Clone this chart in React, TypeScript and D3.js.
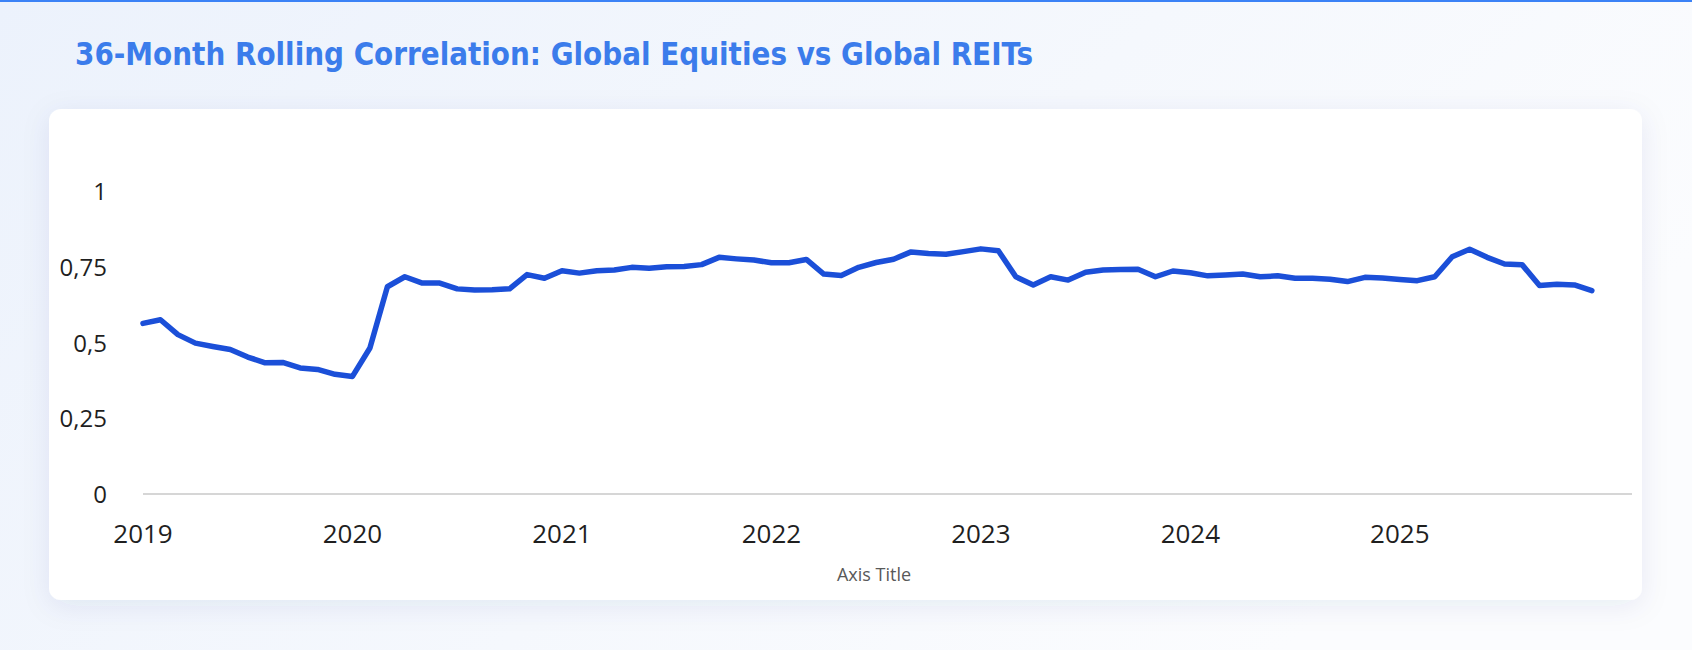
import React from 'react';
import * as d3 from 'd3';

// monthly 36-month rolling correlation, Jan 2019 .. Dec 2025
const corr2019 = [0.563, 0.575, 0.526, 0.498, 0.487, 0.477, 0.452, 0.433, 0.434, 0.416, 0.411, 0.395];
const corr2020 = [0.388, 0.482, 0.684, 0.717, 0.696, 0.696, 0.677, 0.673, 0.674, 0.677, 0.724, 0.712];
const corr2021 = [0.737, 0.729, 0.737, 0.739, 0.748, 0.745, 0.75, 0.751, 0.757, 0.781, 0.776, 0.772];
const corr2022 = [0.763, 0.763, 0.774, 0.726, 0.721, 0.748, 0.764, 0.775, 0.799, 0.794, 0.791, 0.8];
const corr2023 = [0.809, 0.803, 0.717, 0.69, 0.717, 0.706, 0.732, 0.739, 0.741, 0.742, 0.717, 0.736];
const corr2024 = [0.73, 0.72, 0.723, 0.726, 0.717, 0.72, 0.712, 0.712, 0.709, 0.701, 0.715, 0.713];
const corr2025 = [0.708, 0.704, 0.717, 0.783, 0.808, 0.781, 0.759, 0.757, 0.688, 0.692, 0.69, 0.671];

const years = [2019, 2020, 2021, 2022, 2023, 2024, 2025];
const yTicks = [0, 0.25, 0.5, 0.75, 1];
const yTickLabels = ['0', '0,25', '0,5', '0,75', '1'];

const title = '36-Month Rolling Correlation: Global Equities vs Global REITs';
const xAxisTitle = 'Axis Title';

const W = 1692;
const H = 650;

const App: React.FC = () => {
    const series = [corr2019, corr2020, corr2021, corr2022, corr2023, corr2024, corr2025];
    // flatten into {month index, value}
    const points = series.flatMap((arr, yi) => arr.map((v, m) => ({ t: yi * 12 + m, v })));

    // month index -> pixel; axis runs a little past the last month
    const x = d3.scaleLinear().domain([0, 85.3]).range([143, 1632]);
    const y = d3.scaleLinear().domain([0, 1]).range([494, 191]);

    const line = d3
        .line<{ t: number; v: number }>()
        .x((d) => x(d.t))
        .y((d) => y(d.v));

    const [x0, x1] = x.range();

    return (
        <svg
            width={W}
            height={H}
            style={{ position: 'absolute', left: 0, top: 0, display: 'block' }}
            fontFamily="'Open Sans', sans-serif"
        >
            <defs>
                <linearGradient id="bg" x1="0" y1="0" x2="1" y2="0.4">
                    <stop offset="0" stopColor="#ecf2fc" />
                    <stop offset="0.6" stopColor="#f5f8fd" />
                    <stop offset="1" stopColor="#fbfcfe" />
                </linearGradient>
                <filter id="shadow" x="-5%" y="-10%" width="110%" height="130%">
                    <feDropShadow dx="0" dy="6" stdDeviation="14" floodColor="#1e3c78" floodOpacity="0.08" />
                </filter>
            </defs>

            <rect width={W} height={H} fill="url(#bg)" />
            <rect width={W} height={2} fill="#3b82f6" />

            <text
                x={75}
                y={65}
                fontFamily="'DejaVu Sans Condensed', 'DejaVu Sans', sans-serif"
                fontWeight="bold"
                fontSize={32}
                fill="#3b7ceb"
                textLength={958}
                lengthAdjust="spacingAndGlyphs"
            >
                {title}
            </text>

            {/* card */}
            <rect x={49} y={109} width={1593} height={491} rx={12} fill="#ffffff" filter="url(#shadow)" />

            {/* y axis labels */}
            {yTicks.map((t, i) => (
                <text
                    key={t}
                    x={107}
                    y={y(t) + 9}
                    textAnchor="end"
                    fontSize={24}
                    fill="#1f1f1f"
                >
                    {yTickLabels[i]}
                </text>
            ))}

            {/* baseline */}
            <line x1={x0} x2={x1} y1={y(0)} y2={y(0)} stroke="#d6d6d6" strokeWidth={2} />

            {/* x axis labels */}
            {years.map((yr, i) => (
                <text key={yr} x={x(i * 12)} y={543} textAnchor="middle" fontSize={26} fill="#1f1f1f">
                    {yr}
                </text>
            ))}

            <text x={874} y={581} textAnchor="middle" fontSize={18} fill="#595959">
                {xAxisTitle}
            </text>

            <path
                d={line(points) ?? ''}
                fill="none"
                stroke="#1b4fd8"
                strokeWidth={5.5}
                strokeLinejoin="round"
                strokeLinecap="round"
            />
        </svg>
    );
};

export default App;
